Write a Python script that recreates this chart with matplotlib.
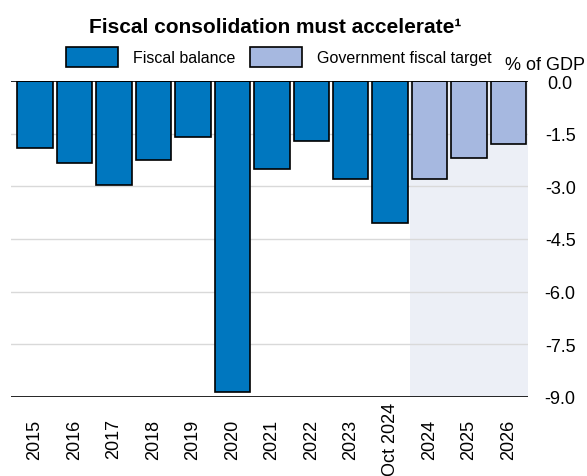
import matplotlib
matplotlib.use("Agg")
import matplotlib.pyplot as plt
from matplotlib.patches import Patch

plt.rcParams['font.family'] = ['Liberation Sans', 'DejaVu Sans']

categories = ["2015", "2016", "2017", "2018", "2019", "2020", "2021", "2022",
              "2023", "Oct 2024", "2024", "2025", "2026"]
fiscal_balance = [-1.9, -2.35, -2.95, -2.25, -1.6, -8.85, -2.5, -1.7, -2.8, -4.05]
fiscal_target = [-2.8, -2.2, -1.8]
yticks = [0.0, -1.5, -3.0, -4.5, -6.0, -7.5, -9.0]

c_bal = "#0077bf"
c_tgt = "#a6b8e0"
c_shade = "#eceff6"

fig = plt.figure(figsize=(5.87, 4.77), dpi=100)
ax = fig.add_axes([0.018, 0.166, 0.882, 0.662])

n_bal = len(fiscal_balance)
x_bal = list(range(n_bal))
x_tgt = list(range(n_bal, n_bal + len(fiscal_target)))

ax.axvspan(n_bal - 0.5, len(categories) - 0.5, color=c_shade, zorder=0, lw=0)
for y in yticks[1:-1]:
    ax.axhline(y, color="#d9d9d9", lw=1, zorder=1)

ax.bar(x_bal, fiscal_balance, width=0.9, color=c_bal, edgecolor="black", lw=1.2, zorder=3)
ax.bar(x_tgt, fiscal_target, width=0.9, color=c_tgt, edgecolor="black", lw=1.2, zorder=3)

ax.axhline(0, color="black", lw=1.2, zorder=4)
ax.axhline(-9, color="black", lw=1.2, zorder=4)

ax.set_xlim(-0.62, len(categories) - 0.5)
ax.set_ylim(-9, 0)
ax.set_yticks(yticks)
ax.set_yticklabels([f"{v:.1f}" for v in yticks], fontsize=13, ha="center")
ax.yaxis.tick_right()
ax.tick_params(axis="y", length=0, pad=23)
ax.set_xticks(range(len(categories)))
ax.set_xticklabels(categories, rotation=90, fontsize=13, va="center")
ax.tick_params(axis="x", length=0, pad=30)
for s in ax.spines.values():
    s.set_visible(False)

fig.text(0.468, 1 - 33 / 477, "Fiscal consolidation must accelerate¹", ha="center", va="baseline",
         fontsize=15, fontweight="bold")
fig.text(0.997, 1 - 70 / 477, "% of GDP", ha="right", va="baseline", fontsize=13)

handles = [Patch(facecolor=c_bal, edgecolor="black", lw=1.2, label="Fiscal balance"),
           Patch(facecolor=c_tgt, edgecolor="black", lw=1.2, label="Government fiscal target")]
fig.legend(handles=handles, loc="center", bbox_to_anchor=(0.475, 0.878), ncol=2, frameon=False,
           fontsize=11.5, handlelength=3.25, handleheight=1.5, columnspacing=0.94,
           handletextpad=0.94, borderpad=0)

fig.savefig("out.png", dpi=100)
